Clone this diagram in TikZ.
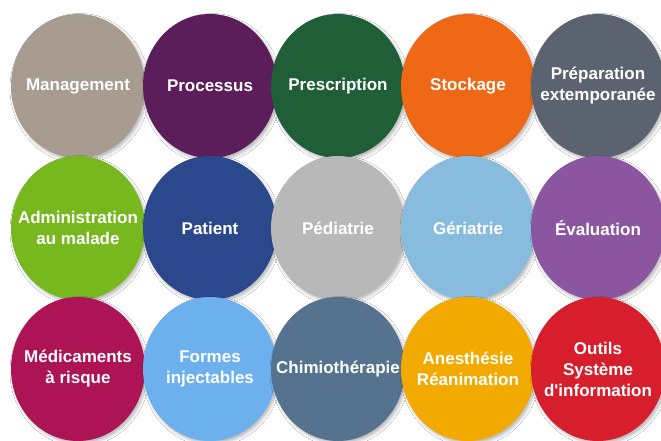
\documentclass[tikz,border=0pt]{standalone}
\usepackage{fontspec}
\setmainfont{Liberation Sans}
\usetikzlibrary{shapes.geometric,shadows.blur}
\definecolor{cManag}{RGB}{168,155,143}
\definecolor{cProc}{RGB}{92,30,90}
\definecolor{cPresc}{RGB}{32,94,56}
\definecolor{cStock}{RGB}{238,104,22}
\definecolor{cPrep}{RGB}{90,99,111}
\definecolor{cAdmin}{RGB}{118,184,30}
\definecolor{cPat}{RGB}{44,72,140}
\definecolor{cPed}{RGB}{184,184,184}
\definecolor{cGer}{RGB}{136,188,222}
\definecolor{cEval}{RGB}{140,85,160}
\definecolor{cMed}{RGB}{172,20,85}
\definecolor{cForm}{RGB}{108,176,238}
\definecolor{cChim}{RGB}{85,115,142}
\definecolor{cAnes}{RGB}{242,170,0}
\definecolor{cOut}{RGB}{214,30,45}
\tikzset{
  bubble/.style={ellipse, minimum width=134pt, minimum height=144pt, inner sep=0pt,
    fill=#1, draw=none,
    blur shadow={shadow xshift=2pt, shadow yshift=-2.5pt, shadow blur radius=3pt, shadow opacity=28}},
  label/.style={text=white, align=center, font=\bfseries\fontsize{17}{21}\selectfont}
}
\begin{document}
\begin{tikzpicture}[x=1pt,y=-1pt]
\useasboundingbox[fill=white] (0,0) rectangle (661,441);
% row 1
\node[bubble=cManag] (b11) at (78,86) {};
\node[bubble=cProc]  (b12) at (210,86) {};
\node[bubble=cPresc] (b13) at (338,86) {};
\node[bubble=cStock] (b14) at (468,86) {};
\node[bubble=cPrep]  (b15) at (598,86) {};
% row 2
\node[bubble=cAdmin] (b21) at (78,228) {};
\node[bubble=cPat]   (b22) at (210,228) {};
\node[bubble=cPed]   (b23) at (338,228) {};
\node[bubble=cGer]   (b24) at (468,228) {};
\node[bubble=cEval]  (b25) at (598,228) {};
% row 3
\node[bubble=cMed]   (b31) at (78,369) {};
\node[bubble=cForm]  (b32) at (210,369) {};
\node[bubble=cChim]  (b33) at (338,369) {};
\node[bubble=cAnes]  (b34) at (468,369) {};
\node[bubble=cOut]   (b35) at (598,369) {};
% labels
\node[label] (t11) at (b11) {Management};
\node[label] (t12) at (b12) {Processus};
\node[label] (t13) at (b13) {Prescription};
\node[label] (t14) at (b14) {Stockage};
\node[label] (t15) at (b15) {Préparation\\extemporanée};
\node[label] (t21) at (b21) {Administration\\au malade};
\node[label] (t22) at (b22) {Patient};
\node[label] (t23) at (b23) {Pédiatrie};
\node[label] (t24) at (b24) {Gériatrie};
\node[label] (t25) at (b25) {Évaluation};
\node[label] (t31) at (b31) {Médicaments\\à risque};
\node[label] (t32) at (b32) {Formes\\injectables};
\node[label] (t33) at (b33) {Chimiothérapie};
\node[label] (t34) at (b34) {Anesthésie\\Réanimation};
\node[label] (t35) at (b35) {Outils\\Système\\d\textquotesingle information};
\end{tikzpicture}
\end{document}
